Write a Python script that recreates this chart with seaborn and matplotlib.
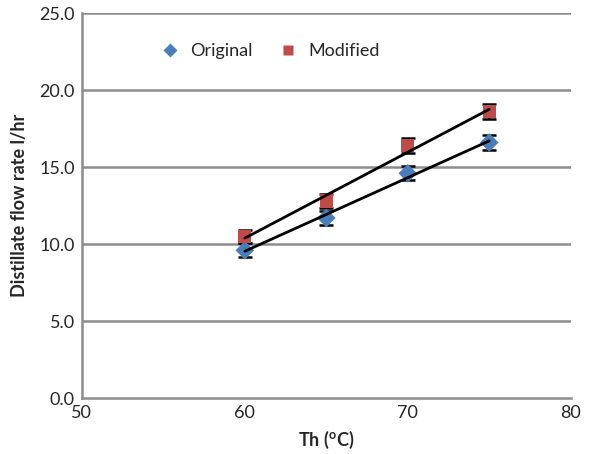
import matplotlib
matplotlib.use("Agg")
import matplotlib.pyplot as plt
import numpy as np
import pandas as pd
import seaborn as sns

# data
temps = [60, 65, 70, 75]
original = [9.6, 11.7, 14.6, 16.6]
modified = [10.5, 12.8, 16.4, 18.6]
err_original = [0.45, 0.45, 0.45, 0.5]
err_modified = [0.45, 0.45, 0.5, 0.5]

df = pd.DataFrame({
    'Th': temps * 2,
    'rate': original + modified,
    'series': ['Original'] * 4 + ['Modified'] * 4,
})

sns.set_style('white')
plt.rcParams['font.family'] = ['Lato', 'DejaVu Sans']
plt.rcParams['mathtext.fontset'] = 'custom'
plt.rcParams['mathtext.rm'] = 'Lato:bold'

fig = plt.figure(figsize=(5.89, 4.54), dpi=100)
ax = fig.add_axes([0.139, 0.123, 0.830, 0.848])

grey = '#8c8c8c'
for y in np.arange(5, 26, 5):
    ax.axhline(y, color=grey, lw=1.8, zorder=0)

# error bars
ax.errorbar(temps, original, yerr=err_original, fmt='none', ecolor='black',
            elinewidth=1.2, capsize=5, capthick=1.8, zorder=2)
ax.errorbar(temps, modified, yerr=err_modified, fmt='none', ecolor='black',
            elinewidth=1.2, capsize=5, capthick=1.8, zorder=2)

sns.scatterplot(data=df, x='Th', y='rate', hue='series', style='series',
                markers={'Original': 'D', 'Modified': 's'},
                palette={'Original': '#4a7ebb', 'Modified': '#be4b48'},
                s=90, edgecolor='none', ax=ax, zorder=3)

# linear trend lines
for vals in (original, modified):
    sns.regplot(x=np.array(temps), y=np.array(vals), scatter=False, ci=None,
                truncate=True, line_kws={'color': 'black', 'lw': 2, 'zorder': 4},
                ax=ax)

ax.set_xlim(50, 80)
ax.set_ylim(0, 25)
ax.set_xticks([50, 60, 70, 80])
ax.set_yticks(np.arange(0, 26, 5))
ax.set_yticklabels([f'{v:.1f}' for v in np.arange(0, 26, 5)])
ax.tick_params(axis='both', length=0, labelsize=13, pad=5)

for s in ['top', 'right']:
    ax.spines[s].set_visible(False)
for s in ['left', 'bottom']:
    ax.spines[s].set_color(grey)
    ax.spines[s].set_linewidth(1.8)

ax.set_xlabel('Th ($^{\\mathrm{o}}$C)', fontsize=13, fontweight='bold', labelpad=6)
ax.set_ylabel('Distillate flow rate l/hr', fontsize=13, fontweight='bold', labelpad=8)

handles, labels = ax.get_legend_handles_labels()
ax.legend(handles, labels, ncol=2, frameon=False, fontsize=13,
          loc='upper left', bbox_to_anchor=(0.11, 0.965),
          handletextpad=0.1, columnspacing=1.0, markerscale=0.8)

fig.savefig('out.png', dpi=100)
